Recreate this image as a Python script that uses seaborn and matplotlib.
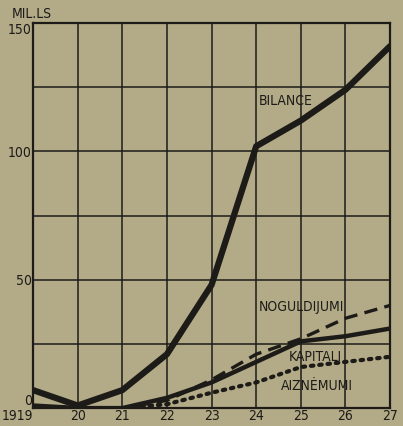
"""Latvian bank balance chart, 1919-1927 (mills. ls)."""

import matplotlib

matplotlib.use("Agg")

import matplotlib.pyplot as plt
import pandas as pd
import seaborn as sns

years = [1919, 1920, 1921, 1922, 1923, 1924, 1925, 1926, 1927]
year_labels = ["1919", "20", "21", "22", "23", "24", "25", "26", "27"]

bilance = [7, 1, 7, 21, 48, 102, 112, 124, 141]
noguldijumi = [1, 0, 0, 3, 11, 21, 27, 35, 40]
kapitali = [1, 0, 0, 4, 10, 18, 26, 28, 31]
aiznemumi = [0, 0, 0, 1.5, 6, 10, 16, 18, 20]

BG = "#b3aa87"
INK = "#1c1b18"

sns.set_theme(style="white")
plt.rcParams["font.family"] = ["DejaVu Sans"]
plt.rcParams["font.stretch"] = "condensed"

df = pd.DataFrame(
    {
        "year": years,
        "BILANCE": bilance,
        "NOGULDIJUMI": noguldijumi,
        "KAPITALI": kapitali,
        "AIZNEMUMI": aiznemumi,
    }
)

fig = plt.figure(figsize=(4.03, 4.26), dpi=100, facecolor=BG)
ax = fig.add_axes([0.082, 0.042, 0.886, 0.904])
ax.set_facecolor(BG)

sns.lineplot(data=df, x="year", y="BILANCE", ax=ax, color=INK, linewidth=4.5)
sns.lineplot(data=df, x="year", y="NOGULDIJUMI", ax=ax, color=INK, linewidth=2.4,
             linestyle=(0, (4, 2.2)))
sns.lineplot(data=df, x="year", y="KAPITALI", ax=ax, color=INK, linewidth=3.2)
sns.lineplot(data=df, x="year", y="AIZNEMUMI", ax=ax, color=INK, linewidth=3.0,
             linestyle=(0, (0.6, 1.4)), dash_capstyle="round")

ax.set_xlim(1919, 1927)
ax.set_ylim(0, 150)
ax.set_xticks(years)
ax.set_xticklabels(year_labels)
ax.set_yticks(range(0, 151, 25))
ax.set_yticklabels(["0", "", "50", "", "100", "", "150"])
ax.grid(True, color=INK, linewidth=1.1)
ax.tick_params(length=0, pad=1, labelsize=10, colors=INK)
ax.get_xticklabels()[0].set_horizontalalignment("right")
ax.get_yticklabels()[-1].set_verticalalignment("top")
ax.get_yticklabels()[0].set_verticalalignment("bottom")
ax.set_xlabel("")
ax.set_ylabel("")
for spine in ax.spines.values():
    spine.set_color(INK)
    spine.set_linewidth(1.6)

ax.text(1924.05, 119.5, "BILANCE", fontsize=10, color=INK, va="center")
ax.text(1924.05, 39.5, "NOGULDIJUMI", fontsize=10, color=INK, va="center")
ax.text(1924.72, 20, "KAPITALI", fontsize=10, color=INK, va="center")
ax.text(1924.55, 8.5, "AIZNĖMUMI", fontsize=10, color=INK, va="center")
fig.text(0.03, 0.966, "MIL.LS", fontsize=10, color=INK, va="center")

fig.savefig("out.png", dpi=100, facecolor=BG)
